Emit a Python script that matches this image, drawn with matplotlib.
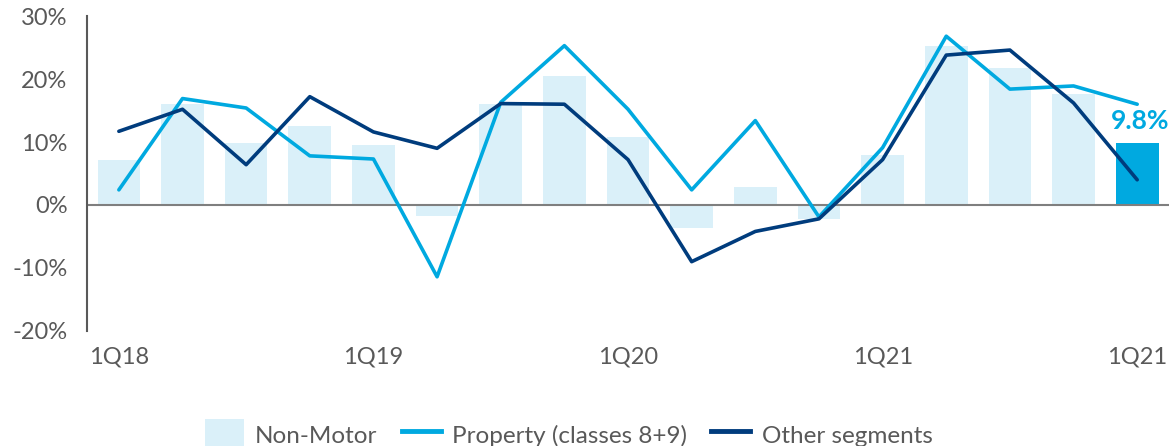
import matplotlib
matplotlib.use("Agg")
import matplotlib.pyplot as plt
from matplotlib.patches import Patch
from matplotlib.lines import Line2D

plt.rcParams['font.family'] = ['Lato', 'DejaVu Sans']

quarters = ["1Q18", "2Q18", "3Q18", "4Q18", "1Q19", "2Q19", "3Q19", "4Q19",
            "1Q20", "2Q20", "3Q20", "4Q20", "1Q21", "2Q21", "3Q21", "4Q21", "1Q22"]
tick_labels = ["1Q18", "1Q19", "1Q20", "1Q21", "1Q21"]
non_motor = [7.1, 16.0, 9.8, 12.5, 9.5, -1.7, 16.0, 20.5, 10.8, -3.7, 2.8, -2.3, 8.0, 25.3, 21.8, 17.6, 9.8]
property_ = [2.4, 16.9, 15.4, 7.8, 7.3, -11.4, 16.3, 25.3, 15.2, 2.4, 13.4, -1.9, 9.1, 26.8, 18.4, 18.9, 16.0]
other = [11.7, 15.2, 6.4, 17.2, 11.6, 9.0, 16.1, 16.0, 7.2, -9.0, -4.2, -2.2, 7.2, 23.8, 24.6, 16.2, 4.0]
highlight_label = "9.8%"

light = "#daf0f9"
cyan = "#00a9e0"
navy = "#003c7d"
grey = "#595959"

fig = plt.figure(figsize=(11.73, 4.46), dpi=100)
ax = fig.add_axes([0.0742, 0.258, 0.9224, 0.706])

x = list(range(len(quarters)))
colors = [light] * (len(x) - 1) + [cyan]
ax.bar(x, non_motor, width=0.67, color=colors, zorder=1)
ax.axhline(0, color="#7f7f7f", lw=1.5, zorder=2)
ax.plot(x, property_, color=cyan, lw=2.6, zorder=3, solid_capstyle="round")
ax.plot(x, other, color=navy, lw=2.6, zorder=4, solid_capstyle="round")

ax.text(x[-1] + 0.05, 13.4, highlight_label, color=cyan, fontsize=19, fontweight="bold",
        ha="center", va="center")

ax.set_xlim(-0.5, 16.5)
ax.set_ylim(-20, 30)
ax.set_yticks([-20, -10, 0, 10, 20, 30])
ax.set_yticklabels([f"{v}%" for v in [-20, -10, 0, 10, 20, 30]])
ax.set_xticks([0, 4, 8, 12, 16])
ax.set_xticklabels(tick_labels)
ax.tick_params(axis="both", length=0, labelsize=17, labelcolor=grey)
ax.tick_params(axis="x", pad=11)
ax.tick_params(axis="y", pad=14)
for s in ["top", "right", "bottom"]:
    ax.spines[s].set_visible(False)
ax.spines["left"].set_color(grey)
ax.spines["left"].set_linewidth(1.5)

handles = [Patch(facecolor=light, edgecolor="none"),
           Line2D([0], [0], color=cyan, lw=3.5),
           Line2D([0], [0], color=navy, lw=3.5)]
labels = ["Non-Motor", "Property (classes 8+9)", "Other segments"]
fig.legend(handles, labels, loc="center", bbox_to_anchor=(0.4847, 0.025), ncol=3, frameon=False,
           fontsize=17.5, labelcolor=grey, handlelength=1.6, handleheight=1.6,
           handletextpad=0.47, columnspacing=1.0, borderpad=0)

fig.savefig("out.png", dpi=100)
